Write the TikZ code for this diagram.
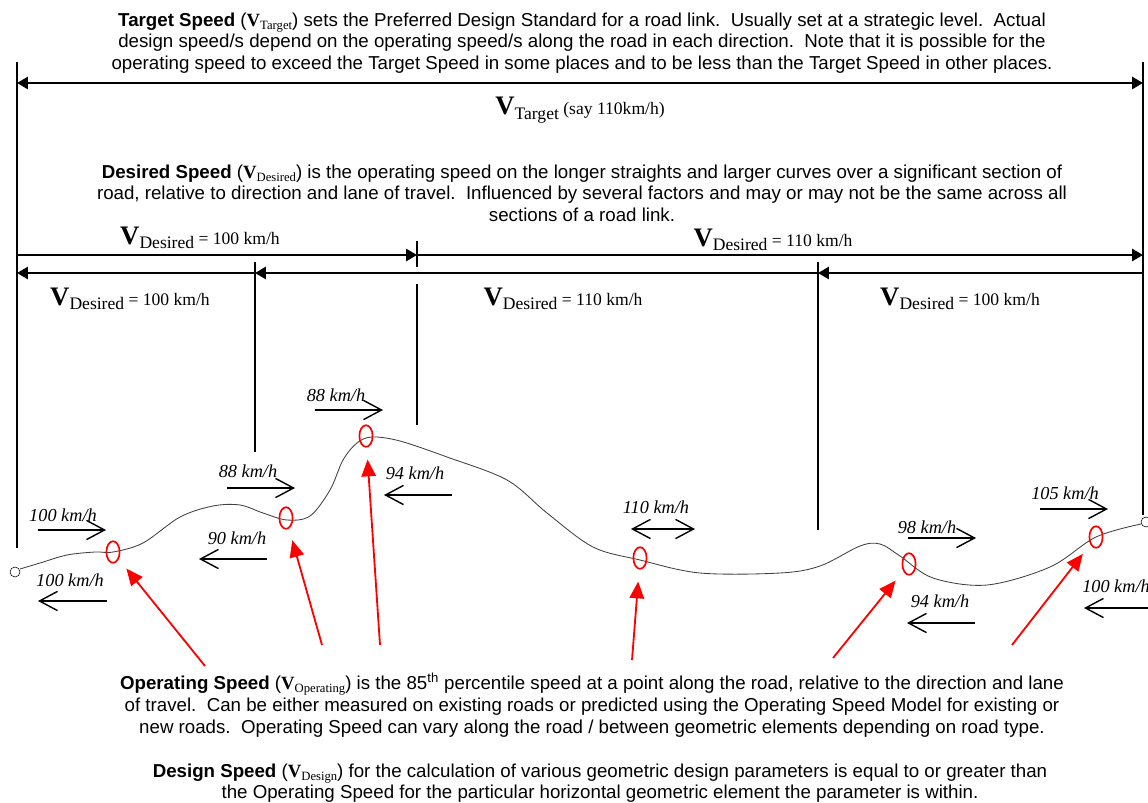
\documentclass[tikz,border=0pt]{standalone}
\usepackage{fontspec}
\setmainfont{Liberation Sans}
\newfontfamily\tnr{Liberation Serif}
\usetikzlibrary{arrows.meta,shapes.geometric}

\newcommand{\Vpar}[1]{{\tnr\textbf{V}\raisebox{-0.35ex}{\fontsize{9}{9}\selectfont #1}}}
\newcommand{\Vbig}[1]{{\tnr\fontsize{19}{20}\selectfont\textbf{V}}{\tnr\fontsize{12.5}{14}\selectfont\raisebox{-0.55ex}{#1}}}

\begin{document}
\begin{tikzpicture}
[x=0.025cm,y=-0.025cm
,para/.style={align=center,font=\fontsize{13.3}{15.4}\selectfont,inner sep=0pt}
,vlab/.style={inner sep=0pt,font=\tnr\fontsize{12.5}{14}\selectfont}
,spd/.style={inner sep=0pt,font=\tnr\itshape\fontsize{13}{14}\selectfont}
,dim/.style={line width=1.6pt,arrows={-Triangle[length=0.27cm,width=0.3cm]}}
,wall/.style={line width=1.1pt}
,sp/.style={line width=1pt,arrows={-Straight Barb[length=0.45cm,width=0.48cm]}}
,pt/.style={ellipse,draw=red,line width=1.2pt,minimum width=0.33cm,minimum height=0.54cm,inner sep=0pt}
,ra/.style={red,line width=1.3pt,shorten >=0.3cm,arrows={-Triangle[length=0.42cm,width=0.36cm]}}
,road/.style={black!75,line width=0.6pt}
,ends/.style={circle,draw,inner sep=0pt,minimum size=0.25cm}]
\useasboundingbox (0,0) rectangle (1148,802);

% texts
\node[para] (ttarget) at (582,43) {\textbf{Target Speed} (\Vpar{Target}) sets the Preferred Design Standard for a road link.\ \ Usually set at a strategic level.\ \ Actual\\
design speed/s depend on the operating speed/s along the road in each direction.\ \ Note that it is possible for the\\
operating speed to exceed the Target Speed in some places and to be less than the Target Speed in other places.};
\node[para] (tdesired) at (582,193) {\textbf{Desired Speed} (\Vpar{Desired}) is the operating speed on the longer straights and larger curves over a significant section of\\
road, relative to direction and lane of travel.\ \ Influenced by several factors and may or may not be the same across all\\
sections of a road link.};
\node[para] (toper) at (592,705) {\textbf{Operating Speed} (\Vpar{Operating}) is the 85\textsuperscript{th} percentile speed at a point along the road, relative to the direction and lane\\
of travel.\ \ Can be either measured on existing roads or predicted using the Operating Speed Model for existing or\\
new roads.\ \ Operating Speed can vary along the road / between geometric elements depending on road type.};
\node[para] (tdesign) at (600,783) {\textbf{Design Speed} (\Vpar{Design}) for the calculation of various geometric design parameters is equal to or greater than\\
the Operating Speed for the particular horizontal geometric element the parameter is within.};

% walls and dimension lines
\coordinate (lt) at (17,62);   \coordinate (lb) at (17,548);
\coordinate (rt) at (1143,62); \coordinate (rb) at (1143,515);
\draw[wall] (lt) -- (lb);
\draw[wall] (rt) -- (rb);

\coordinate (t1) at (17,83); \coordinate (t2) at (1143,83);
\draw[dim,arrows={Triangle[length=0.27cm,width=0.3cm]-Triangle[length=0.27cm,width=0.3cm]}] (t1) -- (t2);
\node[vlab] (vtarget) at (580,110) {\Vbig{Target} (say 110km/h)};

\coordinate (a0) at (17,255); \coordinate (a1) at (417,255); \coordinate (a2) at (1143,255);
\draw[dim] (a0) -- (a1);
\draw[dim] (a1) -- (a2);
\coordinate (b0) at (1143,273); \coordinate (b1) at (818,273);
\coordinate (b2) at (255,273); \coordinate (b3) at (17,273);
\draw[dim] (b0) -- (b1);
\draw[dim] (b1) -- (b2);
\draw[dim] (b2) -- (b3);

\coordinate (k1a) at (417,241); \coordinate (k1b) at (417,267);
\coordinate (k1c) at (417,284); \coordinate (k1d) at (417,425);
\draw[wall] (k1a) -- (k1b);
\draw[wall] (k1c) -- (k1d);
\coordinate (k2a) at (255,262); \coordinate (k2b) at (255,452);
\draw[wall] (k2a) -- (k2b);
\coordinate (k3a) at (818,262); \coordinate (k3b) at (818,530);
\draw[wall] (k3a) -- (k3b);

\node[vlab] (vd1) at (200,238) {\Vbig{Desired} = 100 km/h};
\node[vlab] (vd2) at (773,240) {\Vbig{Desired} = 110 km/h};
\node[vlab] (vd3) at (130,299) {\Vbig{Desired} = 100 km/h};
\node[vlab] (vd4) at (563,299) {\Vbig{Desired} = 110 km/h};
\node[vlab] (vd5) at (960,299) {\Vbig{Desired} = 100 km/h};

% road
\node[ends] (rs) at (15,572) {};
\node[ends] (re) at (1146,522) {};
\draw[road] plot[smooth,tension=0.55] coordinates {(20,569) (40,563) (67,555) (95,552) (113,552) (143,543) (180,517) (213,506) (240,505) (263,513) (287,520) (310,516) (330,490) (343,460) (357,443) (372,437) (400,441) (447,457) (507,480) (547,513) (593,547) (640,560) (700,573) (780,573) (820,566) (860,546) (880,544) (900,556) (933,578) (987,585) (1050,567) (1096,537) (1141,524)};

% operating speed points
\node[pt] (p1) at (113,552) {};
\node[pt] (p2) at (286,518) {};
\node[pt] (p3) at (366,436) {};
\node[pt] (p4) at (640,558) {};
\node[pt] (p5) at (909,564) {};
\node[pt] (p6) at (1096,537) {};

\coordinate (f1) at (205,666); \coordinate (f2) at (322,645);
\coordinate (f3) at (380,645); \coordinate (f4) at (632,660);
\coordinate (f5) at (833,658); \coordinate (f6) at (1012,645);
\draw[ra] (f1) -- (p1);
\draw[ra] (f2) -- (p2);
\draw[ra] (f3) -- (p3);
\draw[ra] (f4) -- (p4);
\draw[ra] (f5) -- (p5);
\draw[ra] (f6) -- (p6);

% speeds along the road
\node[spd] (s1) at (63,515) {100 km/h};
\coordinate (s1a) at (38,530); \coordinate (s1b) at (106,530);
\draw[sp] (s1a) -- (s1b);
\node[spd] (s2) at (70,580) {100 km/h};
\coordinate (s2a) at (107,601); \coordinate (s2b) at (38,601);
\draw[sp] (s2a) -- (s2b);
\node[spd] (s3) at (237,538) {90 km/h};
\coordinate (s3a) at (267,559); \coordinate (s3b) at (199,559);
\draw[sp] (s3a) -- (s3b);
\node[spd] (s4) at (248,471) {88 km/h};
\coordinate (s4a) at (227,488); \coordinate (s4b) at (295,488);
\draw[sp] (s4a) -- (s4b);
\node[spd] (s5) at (336,395) {88 km/h};
\coordinate (s5a) at (315,410); \coordinate (s5b) at (383,410);
\draw[sp] (s5a) -- (s5b);
\node[spd] (s6) at (415,473) {94 km/h};
\coordinate (s6a) at (452,495); \coordinate (s6b) at (384,495);
\draw[sp] (s6a) -- (s6b);
\node[spd] (s7) at (656,507) {110 km/h};
\coordinate (s7a) at (631,529); \coordinate (s7b) at (695,529);
\draw[sp,arrows={Straight Barb[length=0.45cm,width=0.48cm]-Straight Barb[length=0.45cm,width=0.48cm]}] (s7a) -- (s7b);
\node[spd] (s8) at (927,527) {98 km/h};
\coordinate (s8a) at (908,538); \coordinate (s8b) at (976,538);
\draw[sp] (s8a) -- (s8b);
\node[spd] (s9) at (940,601) {94 km/h};
\coordinate (s9a) at (975,623); \coordinate (s9b) at (907,623);
\draw[sp] (s9a) -- (s9b);
\node[spd] (s10) at (1065,493) {105 km/h};
\coordinate (s10a) at (1040,509); \coordinate (s10b) at (1108,509);
\draw[sp] (s10a) -- (s10b);
\node[spd] (s11) at (1116,586) {100 km/h};
\coordinate (s11a) at (1160,608); \coordinate (s11b) at (1084,608);
\draw[sp] (s11a) -- (s11b);
\end{tikzpicture}
\end{document}
